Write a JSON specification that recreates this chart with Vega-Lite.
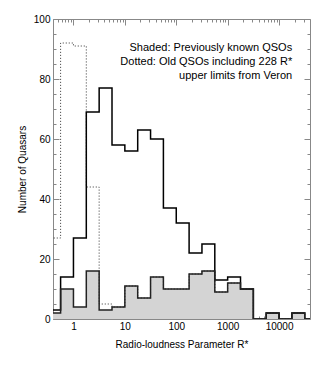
{
  "$schema": "https://vega.github.io/schema/vega-lite/v6.json",
  "width": 257,
  "height": 300,
  "autosize": "none",
  "padding": {"left": 53, "top": 19, "right": 17, "bottom": 63},
  "background": "white",
  "view": {"stroke": null},
  "config": {
    "font": "Liberation Sans",
    "axis": {
      "grid": false,
      "domainColor": "#888888",
      "domainWidth": 1,
      "tickColor": "#888888",
      "tickWidth": 1,
      "labelColor": "#000000",
      "labelFont": "Liberation Sans",
      "labelFontSize": 10,
      "titleFont": "Liberation Sans",
      "titleFontSize": 10,
      "titleFontWeight": "normal",
      "titleColor": "#000000",
      "labelOverlap": false,
      "labelFlush": false
    }
  },
  "datasets": {
    "bins": [
      {"edge": 0.3162, "all": 3, "known": 2, "old": 27},
      {"edge": 0.5623, "all": 14, "known": 10, "old": 92},
      {"edge": 1, "all": 27, "known": 4, "old": 91},
      {"edge": 1.7783, "all": 69, "known": 16, "old": 44},
      {"edge": 3.1623, "all": 77, "known": 3, "old": 5},
      {"edge": 5.6234, "all": 58, "known": 4, "old": 4},
      {"edge": 10, "all": 56, "known": 11, "old": 11},
      {"edge": 17.783, "all": 63, "known": 7, "old": 7},
      {"edge": 31.623, "all": 60, "known": 14, "old": 14},
      {"edge": 56.234, "all": 37, "known": 10, "old": 10},
      {"edge": 100, "all": 32, "known": 10, "old": 10},
      {"edge": 177.83, "all": 22, "known": 15, "old": 15},
      {"edge": 316.23, "all": 25, "known": 16, "old": 16},
      {"edge": 562.34, "all": 13, "known": 9, "old": 9},
      {"edge": 1000, "all": 14, "known": 12, "old": 12},
      {"edge": 1778.3, "all": 10, "known": 10, "old": 10},
      {"edge": 3162.3, "all": 0, "known": 0, "old": 0},
      {"edge": 5623.4, "all": 2, "known": 2, "old": 2},
      {"edge": 10000, "all": 0, "known": 0, "old": 0},
      {"edge": 17783, "all": 2, "known": 2, "old": 2},
      {"edge": 31623, "all": 0, "known": 0, "old": 0},
      {"edge": 56234, "all": 0, "known": 0, "old": 0}
    ],
    "notes": [
      {"x": 18000, "y": 90.2, "label": "Shaded: Previously known QSOs"},
      {"x": 18000, "y": 85.7, "label": "Dotted: Old QSOs including 228 R*"},
      {"x": 18000, "y": 81.0, "label": "upper limits from Veron"}
    ]
  },
  "layer": [
    {
      "data": {"name": "bins"},
      "mark": {"type": "area", "interpolate": "step-after", "color": "#d4d4d4", "clip": true},
      "encoding": {
        "x": {
          "field": "edge", "type": "quantitative",
          "scale": {"type": "log", "domain": [0.4, 40000], "nice": false},
          "axis": {
            "orient": "bottom",
            "title": "Radio-loudness Parameter R*",
            "titlePadding": 5,
            "values": [0.4,0.5,0.6,0.7,0.8,0.9,1,2,3,4,5,6,7,8,9,10,20,30,40,50,60,70,80,90,100,200,300,400,500,600,700,800,900,1000,2000,3000,4000,5000,6000,7000,8000,9000,10000,20000,30000],
            "labelExpr": "abs(log(datum.value)/LN10 - round(log(datum.value)/LN10)) < 0.001 ? format(datum.value, 'd') : ''",
            "tickSize": {"condition": {"test": "abs(log(datum.value)/LN10 - round(log(datum.value)/LN10)) < 0.001", "value": -6}, "value": -3},
            "labelPadding": 8
          }
        },
        "y": {
          "field": "known", "type": "quantitative",
          "scale": {"domain": [0, 100], "nice": false, "zero": true},
          "axis": {
            "orient": "left",
            "title": "Number of Quasars",
            "titlePadding": 6,
            "values": [0,5,10,15,20,25,30,35,40,45,50,55,60,65,70,75,80,85,90,95,100],
            "labelExpr": "datum.value % 20 === 0 ? datum.label : ''",
            "tickSize": {"condition": {"test": "datum.value % 20 === 0", "value": -6}, "value": -3},
            "labelPadding": 9
          }
        }
      }
    },
    {
      "data": {"name": "bins"},
      "mark": {"type": "line", "interpolate": "step-after", "color": "#333333", "strokeWidth": 1, "strokeDash": [1, 2], "clip": true},
      "encoding": {
        "x": {"field": "edge", "type": "quantitative", "axis": null},
        "y": {"field": "old", "type": "quantitative", "axis": null}
      }
    },
    {
      "data": {"name": "bins"},
      "mark": {"type": "line", "interpolate": "step-after", "color": "#000000", "strokeWidth": 1.5, "clip": true},
      "encoding": {
        "x": {
          "field": "edge", "type": "quantitative",
          "axis": {
            "orient": "top", "title": null, "labels": false,
            "values": [0.4,0.5,0.6,0.7,0.8,0.9,1,2,3,4,5,6,7,8,9,10,20,30,40,50,60,70,80,90,100,200,300,400,500,600,700,800,900,1000,2000,3000,4000,5000,6000,7000,8000,9000,10000,20000,30000],
            "tickSize": {"condition": {"test": "abs(log(datum.value)/LN10 - round(log(datum.value)/LN10)) < 0.001", "value": -6}, "value": -3}
          }
        },
        "y": {
          "field": "all", "type": "quantitative",
          "axis": {
            "orient": "right", "title": null, "labels": false,
            "values": [0,5,10,15,20,25,30,35,40,45,50,55,60,65,70,75,80,85,90,95,100],
            "tickSize": {"condition": {"test": "datum.value % 20 === 0", "value": -6}, "value": -3}
          }
        }
      }
    },
    {
      "data": {"name": "bins"},
      "mark": {"type": "line", "interpolate": "step-after", "color": "#222222", "strokeWidth": 1.5, "clip": true},
      "encoding": {
        "x": {"field": "edge", "type": "quantitative", "axis": null},
        "y": {"field": "known", "type": "quantitative", "axis": null}
      }
    },
    {
      "data": {"name": "notes"},
      "mark": {"type": "text", "align": "right", "baseline": "middle", "font": "Liberation Sans", "fontSize": 11, "color": "#000000"},
      "encoding": {
        "x": {"field": "x", "type": "quantitative", "axis": null},
        "y": {"field": "y", "type": "quantitative", "axis": null},
        "text": {"field": "label"}
      }
    }
  ],
  "resolve": {"axis": {"x": "independent", "y": "independent"}}
}
